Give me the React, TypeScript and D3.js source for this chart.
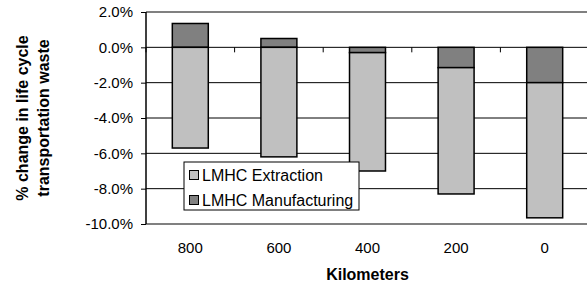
import { axisLeft, scaleBand, scaleLinear, select, stack, stackOffsetDiverging } from "d3";
import { useEffect, useRef } from "react";

// chart values
const categories = ["800", "600", "400", "200", "0"];
const extraction = [-5.7, -6.2, -6.7, -7.15, -7.65];
const manufacturing = [1.35, 0.5, -0.3, -1.15, -2.0];
const yTicks = [2, 0, -2, -4, -6, -8, -10];
const seriesNames = ["LMHC Extraction", "LMHC Manufacturing"];

const colors = { extraction: "#c0c0c0", manufacturing: "#808080" };
const FONT = "'Liberation Sans', Arial, sans-serif";
// plot area
const MARGINS = { top: 12, left: 146, bottom: 224, right: 589 };

const App = () => {
  const svgElem = useRef<SVGSVGElement>(null);

  useEffect(() => {
    if (!svgElem.current) {
      return;
    }
    const svg = select(svgElem.current);
    svg.selectAll("*").remove();

    const xScale = scaleBand()
      .domain(categories)
      .range([MARGINS.left, MARGINS.right])
      .paddingInner(0.594)
      .paddingOuter(0.297);
    const yScale = scaleLinear().domain([-10, 2]).range([MARGINS.bottom, MARGINS.top]);

    const rows = categories.map((c, i) => ({
      cat: c,
      manufacturing: manufacturing[i],
      extraction: extraction[i],
    }));
    const stacked = stack<any>()
      .keys(["manufacturing", "extraction"])
      .offset(stackOffsetDiverging)(rows);

    // gridlines
    svg
      .append("g")
      .selectAll("line")
      .data(yTicks.filter((t) => t > -10 && t < 2))
      .join("line")
      .attr("x1", MARGINS.left)
      .attr("x2", MARGINS.right)
      .attr("y1", (d) => yScale(d))
      .attr("y2", (d) => yScale(d))
      .attr("stroke", "#000")
      .attr("stroke-width", 1);

    // plot area top / bottom border
    [2, -10].forEach((t) => {
      svg
        .append("line")
        .attr("x1", MARGINS.left)
        .attr("x2", MARGINS.right)
        .attr("y1", yScale(t))
        .attr("y2", yScale(t))
        .attr("stroke", "#808080")
        .attr("stroke-width", 2);
    });

    // bars
    stacked.forEach((layer) => {
      svg
        .append("g")
        .selectAll("rect")
        .data(layer)
        .join("rect")
        .attr("x", (d: any) => xScale(d.data.cat)!)
        .attr("width", xScale.bandwidth())
        .attr("y", (d) => yScale(d[1]))
        .attr("height", (d) => yScale(d[0]) - yScale(d[1]))
        .attr("fill", colors[layer.key as "extraction" | "manufacturing"])
        .attr("stroke", "#000")
        .attr("stroke-width", 1.5);
    });

    // category ticks on the zero line
    const step = xScale.step();
    svg
      .append("g")
      .selectAll("line")
      .data(categories.map((_, i) => MARGINS.left + step * i).concat([MARGINS.left + step * 5]))
      .join("line")
      .attr("x1", (d) => d)
      .attr("x2", (d) => d)
      .attr("y1", yScale(0))
      .attr("y2", yScale(0) + 5)
      .attr("stroke", "#000");

    // y axis
    const yAxis = axisLeft(yScale)
      .tickValues(yTicks)
      .tickSize(5)
      .tickPadding(8)
      .tickFormat((d) => `${(+d).toFixed(1)}%`);
    const yg = svg
      .append("g")
      .attr("transform", `translate(${MARGINS.left}, 0)`)
      // @ts-expect-error: d3 typing
      .call(yAxis);
    yg.select(".domain").attr("stroke", "#000").attr("stroke-width", 1.5).attr("d", `M0,${MARGINS.top}V${MARGINS.bottom}`);
    yg.selectAll("text")
      .style("font-family", FONT)
      .style("font-size", "15px")
      .attr("fill", "#000");

    // x labels
    svg
      .append("g")
      .selectAll("text")
      .data(categories)
      .join("text")
      .attr("x", (d) => xScale(d)! + xScale.bandwidth() / 2)
      .attr("y", 253)
      .attr("text-anchor", "middle")
      .style("font-family", FONT)
      .style("font-size", "15px")
      .text((d) => d);

    svg
      .append("text")
      .attr("x", (MARGINS.left + MARGINS.right) / 2)
      .attr("y", 280)
      .attr("text-anchor", "middle")
      .style("font-family", FONT)
      .style("font-size", "16px")
      .style("font-weight", "bold")
      .text("Kilometers");

    // y title
    const yTitle = svg
      .append("text")
      .attr("transform", "translate(0, 118) rotate(-90)")
      .attr("text-anchor", "middle")
      .style("font-family", FONT)
      .style("font-size", "16px")
      .style("font-weight", "bold");
    yTitle.append("tspan").attr("x", 0).attr("y", 28).text("% change in life cycle");
    yTitle.append("tspan").attr("x", 0).attr("y", 48.5).text("transportation waste");

    // legend
    const legend = svg.append("g").attr("transform", "translate(184, 162)");
    legend
      .append("rect")
      .attr("width", 175)
      .attr("height", 48)
      .attr("fill", "#fff")
      .attr("stroke", "#000")
      .attr("stroke-width", 1);
    const legendColors = [colors.extraction, colors.manufacturing];
    seriesNames.forEach((name, i) => {
      legend
        .append("rect")
        .attr("x", 5.5)
        .attr("y", 8.5 + i * 25)
        .attr("width", 9)
        .attr("height", 9)
        .attr("fill", legendColors[i])
        .attr("stroke", "#000");
      legend
        .append("text")
        .attr("x", 18)
        .attr("y", 18.5 + i * 25)
        .style("font-family", FONT)
        .style("font-size", "16px")
        .text(name);
    });
  }, []);

  return (
    <svg
      ref={svgElem}
      width={587}
      height={287}
      style={{ position: "absolute", left: 0, top: 0, background: "#fff" }}
    />
  );
};

export default App;
